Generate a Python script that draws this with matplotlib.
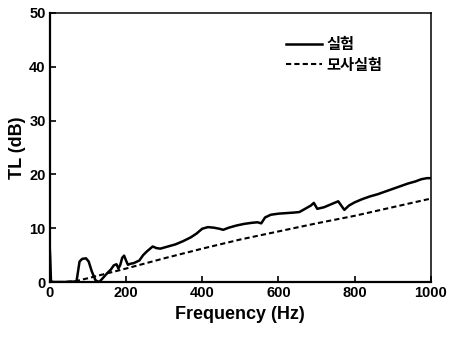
import numpy as np
import matplotlib.pyplot as plt

plt.rcParams['font.family'] = ['Liberation Sans', 'Noto Sans CJK KR', 'DejaVu Sans']

# measured TL curve (실험)
freq_exp = [0, 1, 3, 10, 40, 70, 78, 85, 95, 102, 110, 120, 130, 140, 150, 160,
            168, 175, 180, 185, 190, 195, 200, 205, 212, 220, 235, 245, 255,
            270, 280, 290, 310, 330, 350, 370, 385, 400, 415, 430, 445, 455,
            470, 490, 510, 530, 545, 555, 565, 580, 600, 620, 640, 655, 670,
            685, 693, 702, 720, 740, 757, 765, 773, 785, 800, 820, 840, 860,
            880, 900, 920, 940, 960, 975, 990, 1000]
tl_exp = [6.0, 4.5, 0.1, 0.0, 0.0, 0.1, 3.8, 4.3, 4.4, 3.8, 2.0, 0.3, 0.0, 0.8,
          1.6, 2.3, 3.1, 3.3, 2.5, 3.2, 4.5, 4.9, 4.0, 3.2, 3.4, 3.5, 4.0,
          5.0, 5.7, 6.6, 6.3, 6.2, 6.6, 7.0, 7.6, 8.3, 9.0, 9.9, 10.2, 10.1,
          9.9, 9.7, 10.1, 10.5, 10.8, 11.0, 11.1, 10.9, 12.0, 12.5, 12.7, 12.8,
          12.9, 13.0, 13.6, 14.2, 14.7, 13.6, 13.9, 14.5, 15.0, 14.2, 13.4,
          14.2, 14.8, 15.4, 15.9, 16.3, 16.8, 17.3, 17.8, 18.3, 18.7, 19.1,
          19.3, 19.3]

# simulated TL (모사실험)
freq_sim = [0, 40, 70, 100, 150, 200, 300, 400, 500, 600, 700, 800, 900, 1000]
tl_sim = [0.0, 0.0, 0.2, 0.7, 1.6, 2.5, 4.4, 6.2, 7.9, 9.4, 10.9, 12.3, 13.9, 15.5]

fig = plt.figure(figsize=(4.53, 3.41), dpi=100)
ax = fig.add_axes([0.110, 0.173, 0.841, 0.789])

ax.plot(freq_exp, tl_exp, color='black', lw=1.8, label='실험')
ax.plot(freq_sim, tl_sim, color='black', lw=1.5, ls=(0, (2.5, 1.5)), label='모사실험')

ax.set_xlim(0, 1000)
ax.set_ylim(0, 50)
ax.set_xticks([0, 200, 400, 600, 800, 1000])
ax.set_yticks([0, 10, 20, 30, 40, 50])
ax.tick_params(direction='in', length=4, width=1.2, labelsize=10.5, pad=3)
for t in ax.get_xticklabels() + ax.get_yticklabels():
    t.set_fontweight('bold')
ax.spines['left'].set_linewidth(1.6)
ax.spines['bottom'].set_linewidth(1.6)
ax.spines['top'].set_linewidth(1.1)
ax.spines['right'].set_linewidth(1.1)

ax.set_xlabel('Frequency (Hz)', fontsize=13, fontweight='bold', labelpad=4)
ax.set_ylabel('TL (dB)', fontsize=13, fontweight='bold', labelpad=2)

leg = ax.legend(loc='upper right', bbox_to_anchor=(0.91, 0.965), frameon=False,
                prop={'family': ['Noto Sans CJK KR'], 'weight': 'bold', 'size': 11},
                handlelength=2.4, handletextpad=0.3, labelspacing=0.3)

fig.savefig('out.png', dpi=100)
